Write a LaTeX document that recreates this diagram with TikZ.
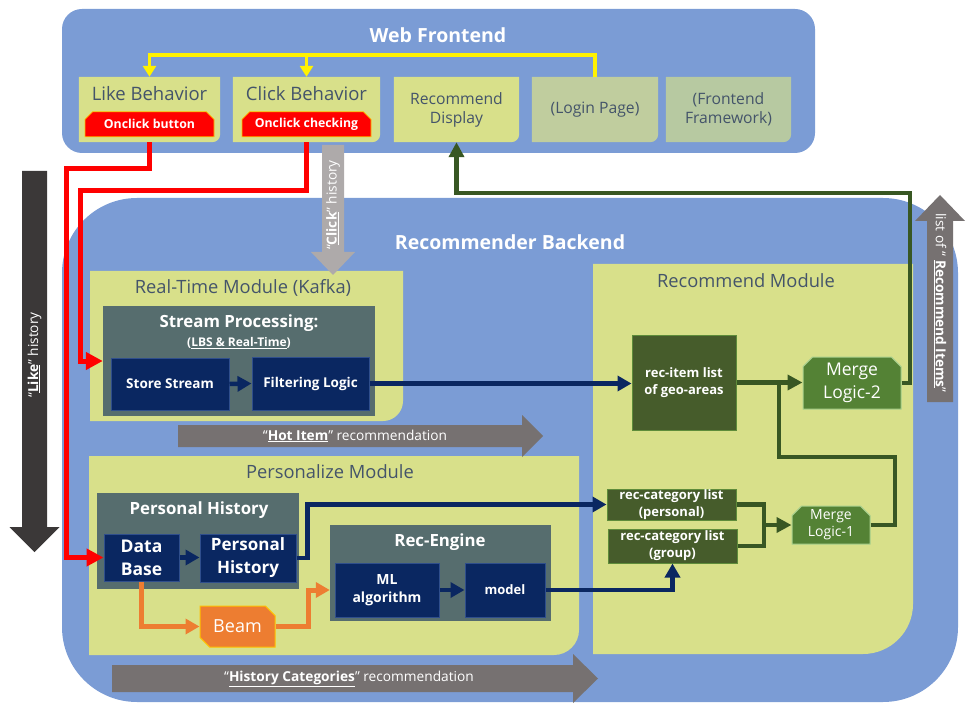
\documentclass[tikz,border=0pt]{standalone}
\usepackage{fontspec}
\setmainfont{Open Sans}
\usetikzlibrary{positioning,arrows.meta,shapes.misc,backgrounds}

\definecolor{backblue}{HTML}{7B9CD5}
\definecolor{modfill}{HTML}{D8E08A}
\definecolor{loginfill}{HTML}{C0CD9E}
\definecolor{framefill}{HTML}{B7C9A1}
\definecolor{titlecol}{HTML}{44546A}
\definecolor{grpfill}{HTML}{566D6E}
\definecolor{navy}{HTML}{0A2761}
\definecolor{navyedge}{HTML}{2F4E8C}
\definecolor{itemgreen}{HTML}{465C2B}
\definecolor{itemedge}{HTML}{5E8C3A}
\definecolor{mergegreen}{HTML}{548235}
\definecolor{mergeedge}{HTML}{A9D18E}
\definecolor{linegreen}{HTML}{385723}
\definecolor{beamorange}{HTML}{ED7D31}
\definecolor{gold}{HTML}{FFC000}
\definecolor{likegray}{HTML}{3B3838}
\definecolor{hotgray}{HTML}{767171}
\definecolor{clickgray}{HTML}{AEAAAA}

\begin{document}
\begin{tikzpicture}[x=1pt,y=-1pt,
  every node/.style={inner sep=0pt},
  bigtitle/.style={text=white,font=\bfseries\fontsize{19.5}{23}\selectfont},
  modtitle/.style={text=titlecol,font=\fontsize{18.3}{21}\selectfont},
  grptitle/.style={text=white,font=\bfseries\fontsize{16.8}{20}\selectfont},
  febox/.style={minimum height=65pt,text=titlecol,align=center,font=\fontsize{15.7}{19}\selectfont},
  fetext/.style={text=titlecol,font=\fontsize{18.5}{21}\selectfont},
  btn/.style={chamfered rectangle,chamfered rectangle corners={north west,north east},
    chamfered rectangle xsep=4pt,fill=red,draw=gold,line width=0.8pt,text=white,
    minimum width=129pt,minimum height=25pt,font=\bfseries\fontsize{12.3}{14}\selectfont},
  grp/.style={fill=grpfill},
  navybox/.style={fill=navy,draw=navyedge,line width=1pt,text=white,align=center,
    font=\bfseries\fontsize{13.5}{18}\selectfont},
  itembox/.style={fill=itemgreen,draw=itemedge,line width=1pt,text=white,align=center,
    font=\bfseries\fontsize{13}{17}\selectfont},
  merge/.style={chamfered rectangle,chamfered rectangle corners={north west,north east},
    chamfered rectangle xsep=6pt,fill=mergegreen,draw=mergeedge,line width=1pt,
    text=white,align=center},
  arrowtxt/.style={text=white,font=\fontsize{13.7}{16}\selectfont},
  redline/.style={draw=red,line width=5pt,-{Triangle[length=17pt,width=17pt]}},
  yelline/.style={draw=yellow,line width=3.5pt,-{Triangle[length=11pt,width=13pt]}},
  navyline/.style={draw=navy,line width=4.5pt,-{Triangle[length=14pt,width=15pt]}},
  orangeline/.style={draw=beamorange,line width=5pt,-{Triangle[length=14pt,width=15pt]}},
  greenline/.style={draw=linegreen,line width=4.5pt},
  greenarrow/.style={greenline,-{Triangle[length=15pt,width=15pt]}}
]
\useasboundingbox (0,0) rectangle (974,719);

% containers
\begin{scope}[on background layer]
  \fill[backblue,rounded corners=20pt] (62,9) rectangle (815,153);
  \fill[backblue,rounded corners=75pt] (62,198) rectangle (958,702);
  \fill[modfill] (90,421) -- (90,271) -- (403,271) [rounded corners=20pt] -- (403,421) [sharp corners] -- cycle;
  \fill[modfill] (89,655) -- (89,456) -- (579,456) [rounded corners=25pt] -- (579,655) [sharp corners] -- cycle;
  \fill[modfill] (593,654) -- (593,264) -- (913,264) [rounded corners=50pt] -- (913,654) [sharp corners] -- cycle;
\end{scope}

\node[bigtitle] (fetitle) at (438,35) {Web Frontend};
\node[bigtitle] (betitle) at (510,242) {Recommender Backend};
\node[modtitle] (rttitle) at (243,288) {Real-Time Module (Kafka)};
\node[modtitle] (pmtitle) at (330,472) {Personalize Module};
\node[modtitle] (rmtitle) at (746,281) {Recommend Module};

% web frontend
\node[febox,minimum width=141pt] (like) at (149.5,109.5) {};
\node[febox,minimum width=147pt] (click) at (306.5,109.5) {};
\node[febox,minimum width=125pt] (display) at (456.5,109.5) {Recommend\\Display};
\node[febox,minimum width=126pt] (login) at (595,109.5) {(Login Page)};
\node[febox,minimum width=125pt] (frame) at (728.5,109.5) {(Frontend\\Framework)};
\begin{scope}[on background layer]
  \foreach \b/\c in {like/modfill,click/modfill,display/modfill,login/loginfill,frame/framefill}
    \fill[\c] (\b.south west) -- (\b.north west) -- (\b.north east) [rounded corners=8pt] -- (\b.south east) [sharp corners] -- cycle;
\end{scope}
\node[fetext,below=9pt of like.north] (liketxt) {Like Behavior};
\node[fetext,below=9pt of click.north] (clicktxt) {Click Behavior};
\node[btn,above=5pt of like.south] (likebtn) {Onclick button};
\node[btn,above=5pt of click.south] (clickbtn) {Onclick checking};

% real-time module
\node[grp,minimum width=272pt,minimum height=110pt] (stream) at (239,361) {};
\node[grptitle] (streamttl) at (239,323) {Stream Processing:};
\node[text=white,font=\bfseries\fontsize{12}{14}\selectfont] (streamsub) at (239,343) {(\underline{LBS \& Real-Time})};
\node[navybox,minimum width=118pt,minimum height=52pt] (store) at (170,384) {Store Stream};
\node[navybox,minimum width=117pt,minimum height=53pt] (filter) at (310.5,383.5) {Filtering Logic};

% personalize module
\node[grp,minimum width=202pt,minimum height=96pt] (phgrp) at (198,541) {};
\node[grptitle] (phttl) at (199,510) {Personal History};
\node[navybox,minimum width=75pt,minimum height=47pt,font=\bfseries\fontsize{17.5}{23}\selectfont] (db) at (141.5,557.5) {Data\\Base};
\node[navybox,minimum width=96pt,minimum height=48pt,font=\bfseries\fontsize{17}{23}\selectfont] (phist) at (248,558) {Personal\\History};
\node[grp,minimum width=221pt,minimum height=96pt] (recengine) at (440.5,573) {};
\node[grptitle] (rettl) at (440,542) {Rec-Engine};
\node[navybox,minimum width=104pt,minimum height=54pt,font=\bfseries\fontsize{14}{18}\selectfont] (mlalg) at (387,590) {ML\\algorithm};
\node[navybox,minimum width=80pt,minimum height=54pt,font=\bfseries\fontsize{13}{16}\selectfont] (model) at (505,590) {model};
\node[chamfered rectangle,chamfered rectangle corners={north east,south west},chamfered rectangle xsep=6pt,
  fill=beamorange,draw=gold,line width=1pt,text=white,font=\fontsize{18}{22}\selectfont,
  minimum width=75pt,minimum height=41pt] (beam) at (237.5,626.5) {Beam};

% recommend module
\node[itembox,minimum width=104pt,minimum height=95pt] (recitem) at (684,382.5) {rec-item list\\of geo-areas};
\node[merge,minimum width=98pt,minimum height=52pt,font=\fontsize{17.5}{23}\selectfont] (ml2) at (852,383) {Merge\\Logic-2};
\node[itembox,minimum width=129pt,minimum height=31pt] (catp) at (671.5,504.5) {rec-category list\\(personal)};
\node[itembox,minimum width=129pt,minimum height=34pt] (catg) at (672.5,546) {rec-category list\\(group)};
\node[merge,minimum width=78pt,minimum height=38pt,font=\fontsize{14}{17}\selectfont] (ml1) at (831,525) {Merge\\Logic-1};

% big arrows
\fill[clickgray] (322,145) -- (344,145) -- (344,252) -- (355,252) -- (333,275) -- (311,252) -- (322,252) -- cycle;
\node[arrowtxt,rotate=90] (clicktag) at (333,205) {“\underline{\textbf{Click}}” history};
\fill[likegray] (22,171) -- (47,171) -- (47,527) -- (59.5,527) -- (34.5,552) -- (9.5,527) -- (22,527) -- cycle;
\node[arrowtxt,rotate=90] (liketag) at (34.5,355) {“\underline{\textbf{Like}}” history};
\fill[hotgray] (178,425) -- (522,425) -- (522,415) -- (543,436) -- (522,457) -- (522,447) -- (178,447) -- cycle;
\node[arrowtxt] (hottag) at (355,436) {“\underline{\textbf{Hot Item}}” recommendation};
\fill[hotgray] (112,665) -- (573,665) -- (573,654) -- (598,678.5) -- (573,703) -- (573,692) -- (112,692) -- cycle;
\node[arrowtxt] (histtag) at (349,679) {“\underline{\textbf{History Categories}}” recommendation};
\fill[hotgray] (927,402) -- (927,221) -- (915,221) -- (940,195) -- (965,221) -- (953,221) -- (953,402) -- cycle;
\node[arrowtxt,rotate=-90] (itemstag) at (940,303) {list of “ \underline{\textbf{Recommend Items}}”};

% connectors
\draw[yelline] (login.north) -- ++(0,-22) -| (like.north);
\draw[yelline] (click.north) ++(0,-22) -- (click.north);
\draw[redline] (like.south) |- (66,169) |- (db.west);
\draw[redline] (click.south) |- (80,191) |- (stream.west);
\draw[navyline] (store.east) -- (filter.west);
\draw[navyline] (filter.east) -- (filter.east -| recitem.west);
\draw[navyline] (db.east) -- (db.east -| phist.west);
\draw[navyline] (phist.east) -- ++(11,0) |- (catp.west);
\draw[navyline] (mlalg.east) -- (model.west);
\draw[navyline] (model.east) -| (catg.south);
\draw[orangeline] (db.south) |- (beam.west);
\draw[orangeline] (beam.east) -- ++(33,0) |- (mlalg.west -| recengine.west);
\coordinate (gj) at (779,382.5);
\coordinate (mj) at (764,525);
\draw[greenarrow] (recitem.east) -- (recitem.east -| ml2.west);
\draw[greenline] (ml1.east) -| (895,457) -| (gj);
\draw[greenline] (catp.east) -| (mj) (catg.east) -| (mj);
\draw[greenarrow] (mj) -- (ml1.west);
\draw[greenarrow] (ml2.east) -| (910,193) -| (display.south);
\end{tikzpicture}
\end{document}
